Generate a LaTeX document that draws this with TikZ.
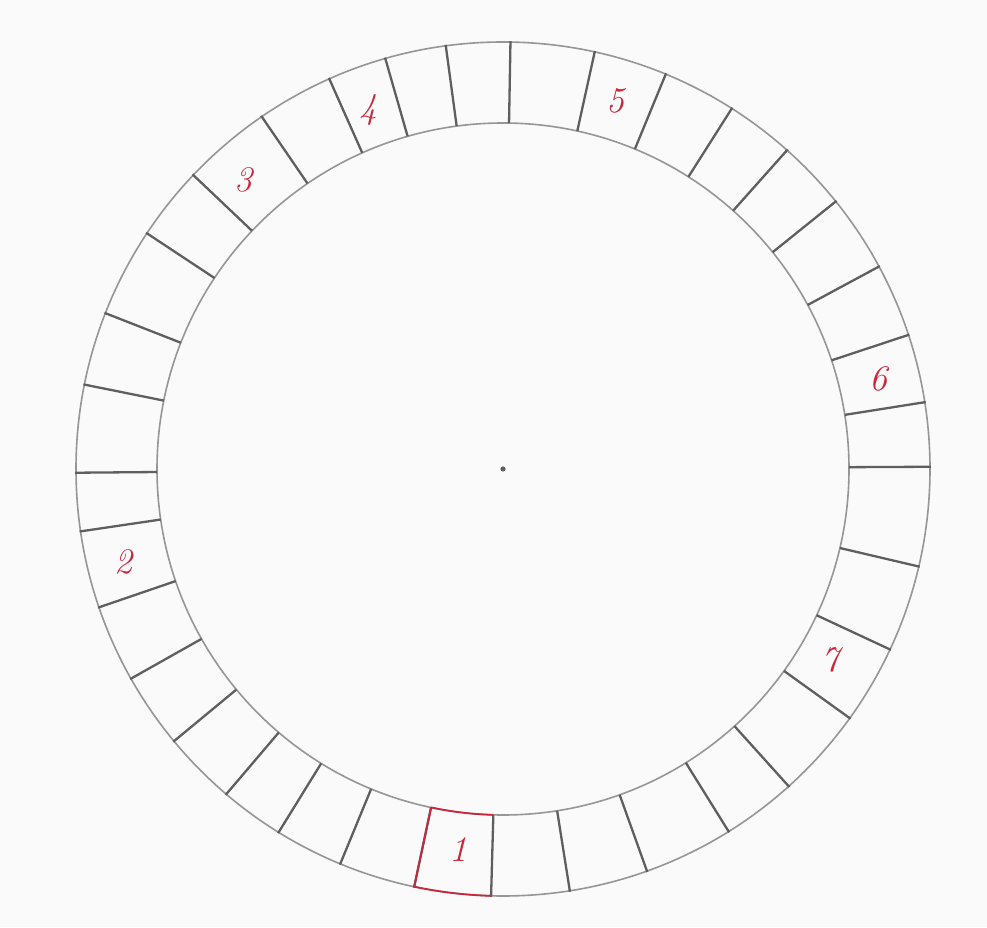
\documentclass[tikz,border=0pt]{standalone}
\usepackage{fontspec}
\definecolor{inkred}{RGB}{200,40,60}
\definecolor{pencil}{RGB}{150,150,150}
\definecolor{pencildark}{RGB}{95,95,95}
\definecolor{paper}{RGB}{250,250,250}
\begin{document}
\begin{tikzpicture}[x=1pt,y=1pt,
  ringline/.style={draw=pencil, line width=1.6pt},
  divider/.style={draw=pencildark, line width=2.3pt},
  redbox/.style={draw=inkred, line width=1.8pt},
  numlabel/.style={text=inkred, font=\fontsize{36}{36}\selectfont\itshape, inner sep=0pt}]
\useasboundingbox (0,0) rectangle (987,927);
\fill[paper] (0,0) rectangle (987,927);
\coordinate (c) at (503,458);
% ring
\draw[ringline] (c) circle (427);
\draw[ringline] (c) circle (346);
% dividers
\foreach \a in {0.3,9,18.3,28.3,38.8,48.3,57.6,67.6,77.6,89,97.7,106,114,124.4,136.5,146.5,158.6,168.6,180.5,188.4,198.9,209.4,219.6,229.6,238.3,247.6,258,268.4,279,289.7,301.9,312,324.3,335,346.8}
  \draw[divider] ([shift={(c)}]\a:346) -- ([shift={(c)}]\a:428);
% red box around cell 1
\draw[redbox] ([shift={(c)}]258:346) -- ([shift={(c)}]258:427)
  arc[start angle=258, end angle=268.4, radius=427]
  ([shift={(c)}]268.4:346) arc[start angle=268.4, end angle=258, radius=346];
% centre dot
\fill[pencildark] (c) circle (2.6);
% labels
\node[numlabel] (n1) at (458,77) {1};
\node[numlabel] (n2) at (123,365) {2};
\node[numlabel] (n3) at (243,747) {3};
\node[numlabel] (n4) at (368,817) {4};
\node[numlabel] (n5) at (615,826) {5};
\node[numlabel] (n6) at (878,548) {6};
\node[numlabel] (n7) at (830,267) {7};
\end{tikzpicture}
\end{document}
